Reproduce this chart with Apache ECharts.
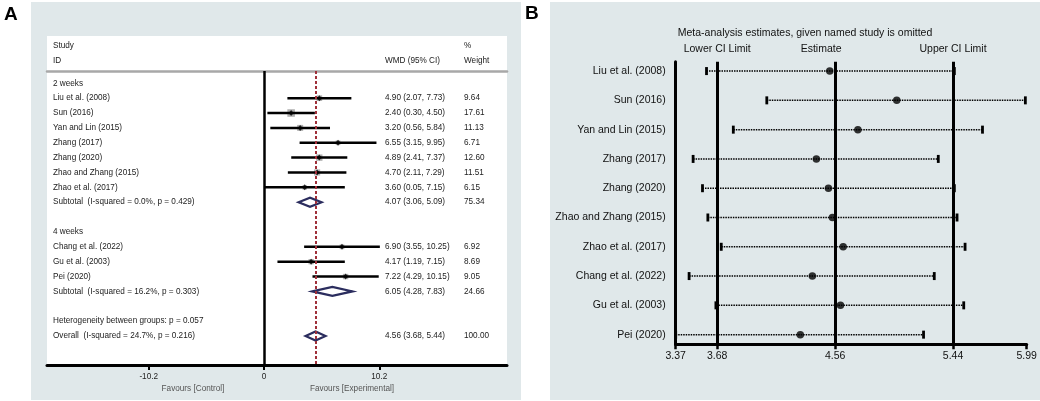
<!DOCTYPE html>
<html>
<head>
<meta charset="utf-8">
<script src="https://cdn.jsdelivr.net/npm/echarts@6/dist/echarts.min.js"></script>
<style>
html, body { margin: 0; padding: 0; background: #fff; }
#main { width: 1040px; height: 401px; }
</style>
</head>
<body>
<div id="main"></div>
<script>
// ---- panel A: forest plot rows (row index = position from top) ----
var rowLabels = ['2 weeks', 'Liu et al. (2008)', 'Sun (2016)', 'Yan and Lin (2015)', 'Zhang (2017)',
    'Zhang (2020)', 'Zhao and Zhang (2015)', 'Zhao et al. (2017)',
    'Subtotal  (I-squared = 0.0%, p = 0.429)', '',
    '4 weeks', 'Chang et al. (2022)', 'Gu et al. (2003)', 'Pei (2020)',
    'Subtotal  (I-squared = 16.2%, p = 0.303)', '',
    'Heterogeneity between groups: p = 0.057', 'Overall  (I-squared = 24.7%, p = 0.216)'];
var rowWmd    = [null, 4.90, 2.40, 3.20, 6.55, 4.89, 4.70, 3.60, 4.07, null, null, 6.90, 4.17, 7.22, 6.05, null, null, 4.56];
var rowLow    = [null, 2.07, 0.30, 0.56, 3.15, 2.41, 2.11, 0.05, 3.06, null, null, 3.55, 1.19, 4.29, 4.28, null, null, 3.68];
var rowHigh   = [null, 7.73, 4.50, 5.84, 9.95, 7.37, 7.29, 7.15, 5.09, null, null, 10.25, 7.15, 10.15, 7.83, null, null, 5.44];
var rowWeight = [null, 9.64, 17.61, 11.13, 6.71, 12.60, 11.51, 6.15, 75.34, null, null, 6.92, 8.69, 9.05, 24.66, null, null, 100.00];
var pooledRows = [8, 14, 17];
var overallRow = 17;
var ticksA = [-10.2, 0, 10.2];

// ---- panel B: leave-one-out estimates ----
var omitNames = ['Liu et al. (2008)', 'Sun (2016)', 'Yan and Lin (2015)', 'Zhang (2017)', 'Zhang (2020)',
    'Zhao and Zhang (2015)', 'Zhao et al. (2017)', 'Chang et al. (2022)', 'Gu et al. (2003)', 'Pei (2020)'];
var omitEst  = [4.52, 5.02, 4.73, 4.42, 4.51, 4.54, 4.62, 4.39, 4.60, 4.30];
var omitLow  = [3.60, 4.05, 3.80, 3.50, 3.57, 3.61, 3.71, 3.47, 3.67, 3.37];
var omitHigh = [5.45, 5.98, 5.66, 5.33, 5.45, 5.47, 5.53, 5.30, 5.52, 5.22];
var ticksB = [3.37, 3.68, 4.56, 5.44, 5.99];
var limitLabels = ['Lower CI Limit', 'Estimate', 'Upper CI Limit'];

var FONT = '"Liberation Sans", Arial, Helvetica, sans-serif';
var fa = 8.2, fb = 10.5;

var studyRows = [], pooledData = [], rowValues = [];
rowLabels.forEach(function (t, i) {
    if (t !== '') rowValues.push(i);
    if (rowWmd[i] == null) return;
    if (pooledRows.indexOf(i) >= 0) {
        pooledData.push([rowLow[i], rowWmd[i], rowHigh[i], i]);
    } else {
        studyRows.push([rowLow[i], rowHigh[i], i, rowWmd[i], rowWeight[i]]);
    }
});
var weightRows = rowValues.filter(function (i) { return rowWeight[i] != null; });

function ciText(v) {
    var i = Math.round(v);
    return rowWmd[i].toFixed(2) + ' (' + rowLow[i].toFixed(2) + ', ' + rowHigh[i].toFixed(2) + ')';
}

function txt(text, x, y, size, fill, align, weight) {
    return {
        type: 'text',
        style: {
            text: text, x: x, y: y, font: (weight || 'normal') + ' ' + size + 'px ' + FONT, fill: fill,
            textAlign: align || 'left', align: align || 'left', textVerticalAlign: 'middle', verticalAlign: 'middle'
        }
    };
}

var myChart = echarts.init(document.getElementById('main'));

var option = {
    animation: false,
    textStyle: { fontFamily: FONT },
    graphic: [
        { type: 'rect', z: -10, shape: { x: 31, y: 2, width: 490, height: 398 }, style: { fill: '#e0e8ea' } },
        { type: 'rect', z: -9, shape: { x: 47, y: 36, width: 460, height: 330 }, style: { fill: '#ffffff' } },
        { type: 'rect', z: -10, shape: { x: 550, y: 2, width: 490, height: 398 }, style: { fill: '#e0e8ea' } },
        txt('A', 4, 15, 19, '#000', 'left', 'bold'),
        txt('B', 525, 14, 19, '#000', 'left', 'bold'),
        txt('Study', 53, 46, fa, '#222'),
        txt('ID', 53, 61, fa, '#222'),
        txt('WMD (95% CI)', 385, 61, fa, '#222'),
        txt('%', 464, 46, fa, '#222'),
        txt('Weight', 464, 61, fa, '#222'),
        txt('Favours [Control]', 193, 389, fa, '#555', 'center'),
        txt('Favours [Experimental]', 352, 389, fa, '#555', 'center'),
        txt('Meta-analysis estimates, given named study is omitted', 805, 33, fb, '#111', 'center')
    ],
    grid: [
        { left: 47, right: 533, top: 71, bottom: 36, containLabel: false, outerBoundsMode: 'none' },
        { left: 675.7, right: 13.3, top: 61.7, bottom: 56.7, containLabel: false, outerBoundsMode: 'none' }
    ],
    xAxis: [
        {
            gridIndex: 0, type: 'value', min: -19.2, max: 21.5, position: 'bottom',
            splitLine: { show: false },
            axisLine: { show: true, onZero: false, lineStyle: { color: '#000', width: 3 } },
            axisTick: { show: true, customValues: ticksA, length: 5, lineStyle: { color: '#000', width: 2 } },
            axisLabel: {
                customValues: ticksA, fontSize: fa, color: '#222', margin: 8,
                formatter: function (v) { return v === 0 ? '0' : v.toFixed(1); }
            }
        },
        {
            gridIndex: 0, type: 'value', min: -19.2, max: 21.5, position: 'top',
            splitLine: { show: false },
            axisLine: { show: true, onZero: false, lineStyle: { color: '#a8a8a8', width: 2.5 } },
            axisTick: { show: false }, axisLabel: { show: false }
        },
        {
            gridIndex: 1, type: 'value', min: 3.37, max: 5.99, position: 'bottom',
            splitLine: { show: false },
            axisLine: { show: true, onZero: false, lineStyle: { color: '#000', width: 3 } },
            axisTick: { show: true, customValues: ticksB, length: 5, lineStyle: { color: '#000', width: 2.5 } },
            axisLabel: {
                customValues: ticksB, fontSize: fb, color: '#111', margin: 6,
                formatter: function (v) { return v.toFixed(2); }
            }
        },
        {
            gridIndex: 1, type: 'value', min: 3.37, max: 5.99, position: 'top',
            splitLine: { show: false },
            axisLine: { show: false, onZero: false }, axisTick: { show: false },
            axisLabel: {
                customValues: [rowLow[overallRow], rowWmd[overallRow], rowHigh[overallRow]],
                fontSize: fb, color: '#111', margin: 7,
                formatter: function (v) {
                    if (v === rowWmd[overallRow]) return '{e|' + limitLabels[1] + '}';
                    return v === rowLow[overallRow] ? limitLabels[0] : limitLabels[2];
                },
                rich: { e: { fontSize: fb, color: '#111', fontFamily: FONT, padding: [0, 28, 0, 0] } }
            }
        }
    ],
    yAxis: [
        {
            gridIndex: 0, type: 'value', inverse: true, min: -0.827, max: 18.95, position: 'left',
            splitLine: { show: false }, axisLine: { show: false, onZero: false }, axisTick: { show: false },
            axisLabel: {
                inside: true, margin: 6, fontSize: fa, color: '#222', customValues: rowValues,
                formatter: function (v) { return rowLabels[Math.round(v)]; }
            }
        },
        {
            gridIndex: 0, type: 'value', inverse: true, min: -0.827, max: 18.95, position: 'right',
            splitLine: { show: false }, axisLine: { show: false, onZero: false }, axisTick: { show: false },
            axisLabel: {
                inside: true, align: 'left', margin: 122, fontSize: fa, color: '#222', customValues: weightRows,
                formatter: ciText
            }
        },
        {
            gridIndex: 0, type: 'value', inverse: true, min: -0.827, max: 18.95, position: 'right',
            splitLine: { show: false }, axisLine: { show: false, onZero: false }, axisTick: { show: false },
            axisLabel: {
                inside: true, align: 'left', margin: 43, fontSize: fa, color: '#222', customValues: weightRows,
                formatter: function (v) { return rowWeight[Math.round(v)].toFixed(2); }
            }
        },
        {
            gridIndex: 1, type: 'value', inverse: true, min: -0.32, max: 9.33, position: 'left',
            splitLine: { show: false },
            axisLine: { show: true, onZero: false, lineStyle: { color: '#000', width: 3 } },
            axisTick: { show: false },
            axisLabel: {
                margin: 10, fontSize: fb, color: '#111', customValues: omitNames.map(function (n, i) { return i; }),
                formatter: function (v) { return omitNames[Math.round(v)]; }
            }
        }
    ],
    series: [
        // zero line and overall estimate line
        {
            type: 'scatter', xAxisIndex: 0, yAxisIndex: 0, data: [], z: 1,
            markLine: {
                silent: true, symbol: ['none', 'none'], label: { show: false },
                data: [
                    { xAxis: 0, lineStyle: { color: '#000', width: 2.5, type: 'solid' } },
                    { xAxis: rowWmd[overallRow], lineStyle: { color: '#a0303a', width: 2, type: [3, 2] } }
                ]
            }
        },
        // weight boxes
        {
            type: 'custom', xAxisIndex: 0, yAxisIndex: 0, z: 2,
            data: studyRows.map(function (r) { return [r[3], r[2], r[4]]; }),
            renderItem: function (params, api) {
                var c = api.coord([api.value(0), api.value(1)]);
                var s = 1.8 * Math.sqrt(api.value(2));
                return { type: 'rect', shape: { x: c[0] - s / 2, y: c[1] - s / 2, width: s, height: s }, style: { fill: '#b0b0b0' } };
            }
        },
        // CI lines
        {
            type: 'custom', xAxisIndex: 0, yAxisIndex: 0, z: 3,
            data: studyRows.map(function (r) { return [r[0], r[1], r[2]]; }),
            renderItem: function (params, api) {
                var p1 = api.coord([api.value(0), api.value(2)]);
                var p2 = api.coord([api.value(1), api.value(2)]);
                return { type: 'line', shape: { x1: p1[0], y1: p1[1], x2: p2[0], y2: p2[1] }, style: { stroke: '#000', lineWidth: 2.5 } };
            }
        },
        // point estimates
        {
            type: 'scatter', xAxisIndex: 0, yAxisIndex: 0, z: 4,
            symbol: 'diamond', symbolSize: [5, 6], itemStyle: { color: '#000' },
            data: studyRows.map(function (r) { return [r[3], r[2]]; })
        },
        // pooled diamonds
        {
            type: 'custom', xAxisIndex: 0, yAxisIndex: 0, z: 4,
            data: pooledData,
            renderItem: function (params, api) {
                var a = api.coord([api.value(0), api.value(3)]);
                var m = api.coord([api.value(1), api.value(3)]);
                var b = api.coord([api.value(2), api.value(3)]);
                var h = 4.5;
                return {
                    type: 'polygon',
                    shape: { points: [[a[0], a[1]], [m[0], m[1] - h], [b[0], b[1]], [m[0], m[1] + h]] },
                    style: { fill: 'none', stroke: '#2b2d5e', lineWidth: 2.2 }
                };
            }
        },
        // panel B reference lines
        {
            type: 'scatter', xAxisIndex: 2, yAxisIndex: 3, data: [], z: 1,
            markLine: {
                silent: true, symbol: ['none', 'none'], label: { show: false },
                lineStyle: { color: '#000', width: 3, type: 'solid' },
                data: [{ xAxis: rowLow[overallRow] }, { xAxis: rowWmd[overallRow] }, { xAxis: rowHigh[overallRow] }]
            }
        },
        // panel B dotted CI with caps
        {
            type: 'custom', xAxisIndex: 2, yAxisIndex: 3, z: 3,
            data: omitNames.map(function (n, i) { return [omitLow[i], omitHigh[i], i]; }),
            renderItem: function (params, api) {
                var p1 = api.coord([api.value(0), api.value(2)]);
                var p2 = api.coord([api.value(1), api.value(2)]);
                return {
                    type: 'group',
                    children: [
                        { type: 'line', shape: { x1: p1[0], y1: p1[1], x2: p2[0], y2: p2[1] }, style: { stroke: '#000', lineWidth: 1.5, lineDash: [1.5, 1] } },
                        { type: 'line', shape: { x1: p1[0], y1: p1[1] - 4, x2: p1[0], y2: p1[1] + 4 }, style: { stroke: '#000', lineWidth: 2.8 } },
                        { type: 'line', shape: { x1: p2[0], y1: p2[1] - 4, x2: p2[0], y2: p2[1] + 4 }, style: { stroke: '#000', lineWidth: 2.8 } }
                    ]
                };
            }
        },
        {
            type: 'scatter', xAxisIndex: 2, yAxisIndex: 3, z: 4,
            symbol: 'circle', symbolSize: 7.5, itemStyle: { color: '#000' },
            data: omitNames.map(function (n, i) { return [omitEst[i], i]; })
        }
    ]
};

myChart.setOption(option);
</script>
</body>
</html>
